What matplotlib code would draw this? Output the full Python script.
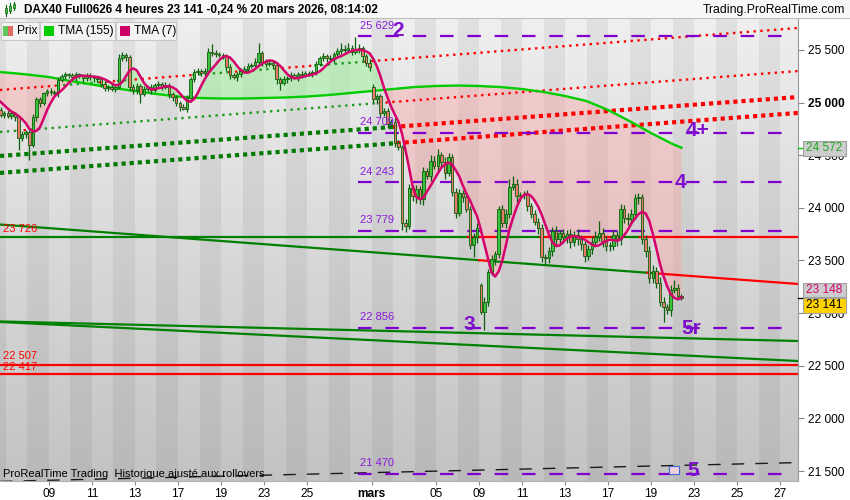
import numpy as np
import pandas as pd
import matplotlib
matplotlib.use("Agg")
import matplotlib.pyplot as plt
from matplotlib.patches import Rectangle
from matplotlib.colors import LinearSegmentedColormap

plt.rcParams['font.family'] = ['Liberation Sans', 'DejaVu Sans']

# ---------------- data ----------------
# 4-hour closes, 6 bars per trading day; day index 0 = 9 Feb 2026
first_day, first_slot = -4, 4
closes_by_day = [
    [25080, 25060],                                   # day -4 (warm-up, off chart)
    [25040, 25020, 24990, 24930, 24880, 24900],       # day -3
    [24870, 24900, 24860, 24660, 24700, 24720],
    [24600, 24860, 25030, 25000, 25090, 25110],
    [25100, 25090, 25215, 25250, 25270, 25260],       # 09 Feb
    [25240, 25270, 25250, 25230, 25260, 25240],
    [25230, 25220, 25180, 25140, 25150, 25130],
    [25150, 25420, 25450, 25430, 25150, 25120],
    [25160, 25080, 25130, 25150, 25120, 25170],
    [25180, 25150, 25170, 25080, 25050, 25000],       # 16 Feb
    [24960, 24940, 25040, 25220, 25290, 25300],
    [25280, 25300, 25480, 25470, 25460, 25450],
    [25440, 25340, 25260, 25240, 25270, 25300],
    [25320, 25350, 25360, 25390, 25470, 25390],
    [25370, 25380, 25360, 25220, 25190, 25220],       # 23 Feb
    [25230, 25260, 25240, 25270, 25260, 25280],
    [25270, 25290, 25370, 25420, 25440, 25420],
    [25410, 25460, 25490, 25510, 25500, 25520],
    [25480, 25500, 25520, 25440, 25380, 25340],
    [25030, 25060, 24900, 24920, 24800, 24820],       # 02 Mar
    [24620, 24580, 23860, 23830, 24190, 24110],
    [24180, 24080, 24350, 24300, 24450, 24400],
    [24500, 24440, 24330, 24480, 24150, 23950],
    [24140, 24100, 23990, 23650, 23720, 23810],
    [23010, 23110, 23390, 23510, 23560, 23990],       # 09 Mar
    [23860, 23940, 24200, 24230, 24110, 24120],
    [24130, 24020, 23940, 23870, 23810, 23530],
    [23520, 23590, 23780, 23700, 23760, 23720],
    [23750, 23680, 23740, 23700, 23660, 23540],
    [23610, 23680, 23720, 23760, 23690, 23640],       # 16 Mar
    [23640, 23740, 23700, 23990, 23900, 23890],
    [23940, 24090, 24100, 23700, 23590, 23330],
    [23400, 23290, 23110, 23060, 23030, 23220],
    [23240, 23160, 23141],                            # 20 Mar
]
wick_hi_by_day = [
    [20, 25],
    [20, 20, 30, 25, 30, 25],
    [30, 20, 15, 20, 30, 20],
    [20, 30, 20, 25, 15, 20],
    [25, 20, 30, 20, 25, 15],
    [20, 25, 15, 20, 25, 20],
    [20, 15, 20, 25, 20, 30],
    [20, 40, 30, 25, 20, 25],
    [25, 20, 30, 20, 25, 20],
    [30, 20, 25, 20, 25, 20],
    [20, 25, 30, 20, 25, 30],
    [20, 25, 40, 75, 30, 20],
    [25, 20, 30, 25, 20, 30],
    [30, 25, 20, 30, 95, 20],
    [25, 30, 20, 25, 20, 30],
    [20, 30, 25, 20, 30, 25],
    [25, 20, 30, 25, 30, 20],
    [30, 25, 30, 60, 40, 45],
    [30, 125, 40, 20, 25, 30],
    [30, 25, 20, 30, 25, 20],
    [30, 25, 20, 30, 40, 30],
    [40, 30, 40, 30, 50, 40],
    [60, 30, 40, 40, 30, 40],
    [40, 30, 50, 30, 40, 50],
    [20, 40, 30, 40, 30, 30],
    [40, 50, 70, 70, 40, 30],
    [30, 40, 30, 40, 30, 40],
    [30, 40, 40, 50, 30, 40],
    [40, 50, 40, 60, 40, 30],
    [40, 50, 60, 120, 50, 40],
    [40, 50, 40, 50, 40, 50],
    [50, 40, 40, 30, 40, 50],
    [60, 40, 50, 40, 30, 50],
    [75, 40, 20],
]
wick_lo_by_day = [
    [25, 20],
    [30, 20, 25, 30, 20, 30],
    [20, 25, 30, 110, 20, 40],
    [145, 20, 30, 40, 20, 30],
    [30, 25, 40, 20, 30, 25],
    [25, 30, 20, 30, 20, 25],
    [30, 20, 35, 25, 30, 20],
    [30, 20, 25, 30, 40, 35],
    [40, 85, 20, 30, 35, 20],
    [25, 30, 20, 40, 30, 35],
    [40, 10, 25, 30, 20, 25],
    [25, 30, 20, 25, 30, 20],
    [30, 40, 35, 20, 30, 25],
    [20, 30, 25, 20, 35, 40],
    [30, 20, 35, 40, 70, 25],
    [30, 25, 20, 30, 25, 20],
    [20, 30, 25, 20, 25, 30],
    [25, 30, 20, 25, 30, 20],
    [25, 20, 30, 40, 30, 35],
    [30, 40, 35, 30, 40, 30],
    [40, 30, 70, 60, 30, 40],
    [60, 40, 50, 30, 40, 30],
    [40, 50, 60, 30, 40, 50],
    [30, 40, 30, 40, 120, 50],
    [20, 170, 40, 30, 50, 40],
    [40, 50, 40, 30, 50, 40],
    [40, 50, 40, 30, 60, 40],
    [50, 40, 50, 60, 40, 50],
    [50, 60, 40, 50, 60, 50],
    [40, 50, 40, 30, 60, 50],
    [50, 40, 60, 50, 40, 50],
    [40, 50, 50, 40, 60, 40],
    [40, 50, 40, 140, 40, 60],
    [30, 40, 20],
]
# opening gaps (day, slot) -> open
gap_opens = {(15, 0): 25150, (20, 0): 23270}

# TMA(155) read at the start of each trading day (day -3 .. 29) and at the last bar
tma155_days = list(range(-3, 30))
tma155_vals = [25300, 25286, 25267, 25243, 25205, 25172, 25139, 25110, 25082, 25058,
               25044, 25039, 25039, 25044, 25049, 25058, 25072, 25091, 25110, 25129,
               25148, 25158, 25162, 25158, 25148, 25129, 25101, 25063, 25015, 24930,
               24825, 24711, 24607]
tma155_last = 24572
tma7_last = 23148
last_price = 23141

# drawn objects: (t0, p0, t1, p1)
fine_dotted = [(-2.279, 25120, 34.837, 25709), (-2.279, 24721, 34.837, 25300)]
thick_dotted = [(-2.279, 24493, 34.837, 25053), (-2.279, 24332, 34.837, 24902)]
solid_dyn = [(-2.279, 23726, 34.837, 23726), (-2.279, 23842, 34.837, 23277),
             (-2.279, 22921, 34.837, 22735), (-2.279, 22916, 34.837, 22545)]
red_levels = [22507, 22417]
black_dashed = (-2.279, 21401, 34.837, 21580)
left_labels = [(23726, '23 726', 229), (22507, '22 507', 356), (22417, '22 417', 367)]

purple_levels = [25629, 24709, 24243, 23779, 22856, 21470]
purple_labels = ['25 629', '24 709', '24 243', '23 779', '22 856', '21 470']
wave_labels = [('2', 398, 31), ('4+', 698, 131), ('4', 680, 182), ('3', 469, 325),
               ('5r', 691, 328), ('5', 693, 470)]

xtick_pos = [0, 2, 4, 6, 8, 10, 12, 15, 18, 20, 22, 24, 26, 28, 30, 32, 34]
xtick_lab = ['09', '11', '13', '17', '19', '23', '25', 'mars', '05', '09', '11', '13',
             '17', '19', '23', '25', '27']
ytick_vals = [21500, 22000, 22500, 23000, 23500, 24000, 24500, 25000, 25500]

# ---------------- build bars ----------------
closes, his, los, opens, ts = [], [], [], [], []
prev = None
for di, (cl, wh, wl) in enumerate(zip(closes_by_day, wick_hi_by_day, wick_lo_by_day)):
    day = first_day + di
    s0 = first_slot if di == 0 else 0
    for j, (c, a, b) in enumerate(zip(cl, wh, wl)):
        slot = s0 + j
        o = gap_opens.get((day, slot), prev if prev is not None else c + 20)
        closes.append(c); opens.append(o)
        his.append(max(o, c) + a); los.append(min(o, c) - b)
        ts.append(day + (slot + 0.5) / 6.0)
        prev = c
closes = np.array(closes, float); opens = np.array(opens, float)
his = np.array(his, float); los = np.array(los, float); ts = np.array(ts)

tma7 = pd.Series(closes).rolling(4, min_periods=1).mean().rolling(4, min_periods=1).mean().values
tma155_t = np.array(tma155_days + [ts[-1]], float)
tma155_p = np.array(tma155_vals + [tma155_last], float)

# ---------------- figure ----------------
W, H = 850, 500
fig = plt.figure(figsize=(8.5, 5), dpi=100)
fig.patch.set_facecolor('white')
def fx(x): return x / W
def fy(y): return 1 - y / H

AX_R, AX_T, AX_B = 798, 18, 481
ax = fig.add_axes([0, fy(AX_B), AX_R / W, (AX_B - AX_T) / H])
T_MIN, T_MAX = -2.279, 34.837
P_MIN, P_MAX = 21405, 25804
ax.set_xlim(T_MIN, T_MAX); ax.set_ylim(P_MIN, P_MAX)

# background gradient + day bands
cmap = LinearSegmentedColormap.from_list('bg', ['#c3c3c3', '#efefef'])
grad = np.linspace(0, 1, 256).reshape(-1, 1)
ax.imshow(grad, extent=[T_MIN, T_MAX, P_MIN, P_MAX], origin='lower', aspect='auto',
          cmap=cmap, zorder=0)
for d in range(-4, 36):
    if d % 2 != 0:
        ax.axvspan(d, d + 1, color='black', alpha=0.055, lw=0, zorder=0.5)

# fills between TMAs
vis = ts >= -3
t_v = ts[vis]; m7 = tma7[vis]; m155 = np.interp(t_v, tma155_t, tma155_p)
ax.fill_between(t_v, m7, m155, where=m7 >= m155, interpolate=True, color='#9ff09f',
                alpha=0.55, lw=0, zorder=1)
ax.fill_between(t_v, m7, m155, where=m7 < m155, interpolate=True, color='#ff9d9d',
                alpha=0.38, lw=0, zorder=1)

GREEN_L, RED_L = '#008000', '#ff0000'

def dyn_line(t0, p0, t1, p1, gcol, rcol, **kw):
    slope = (p1 - p0) / (t1 - t0)
    idx = np.where((ts >= t0) & (ts <= t1))[0]
    status = closes[idx] > p0 + slope * (ts[idx] - t0)
    runs = []
    st, cur = t0, status[0]
    for i in range(1, len(idx)):
        if status[i] != cur:
            bt = 0.5 * (ts[idx[i - 1]] + ts[idx[i]])
            runs.append((st, bt, cur)); st, cur = bt, status[i]
    runs.append((st, t1, cur))
    for a, b, s in runs:
        ax.plot([a, b], [p0 + slope * (a - t0), p0 + slope * (b - t0)],
                color=gcol if s else rcol, **kw)

for (t0, p0, t1, p1) in fine_dotted:
    dyn_line(t0, p0, t1, p1, '#1e9a1e', RED_L, lw=1.7, ls=(0, (1, 1.9)), zorder=2,
             solid_capstyle='butt', dash_capstyle='butt')
for (t0, p0, t1, p1) in thick_dotted:
    dyn_line(t0, p0, t1, p1, '#007a00', RED_L, lw=3.0, ls=(0, (1, 0.95)), zorder=2,
             dash_capstyle='butt')
for (t0, p0, t1, p1) in solid_dyn:
    dyn_line(t0, p0, t1, p1, GREEN_L, RED_L, lw=1.6, zorder=2)
for lv in red_levels:
    ax.axhline(lv, color=RED_L, lw=1.6, zorder=2)
t0, p0, t1, p1 = black_dashed
ax.plot([t0, t1], [p0, p1], color='#1a1a1a', lw=1.0, ls=(0, (9, 8)), zorder=2)

# purple levels
lv_t0, lv_t1 = (358 - 49) / 21.5, (787 - 49) / 21.5
for lv, lab in zip(purple_levels, purple_labels):
    ax.plot([lv_t0, lv_t1], [lv, lv], color='#8000d0', lw=1.6, ls=(0, (6.1, 6.2)),
            zorder=2.5, dash_capstyle='butt')
    ax.text(lv_t0 + 0.08, lv + 55, lab, color='#8a1ad8', fontsize=8, va='bottom',
            ha='left', zorder=5)

# TMA155
ax.plot(tma155_t, tma155_p, color='#00cc00', lw=1.7, zorder=2.6)

# candles
up = closes >= opens
body_lo = np.minimum(opens, closes)
body_h = np.maximum(np.abs(closes - opens), 8)
ax.vlines(ts, los, his, color='#0b5e0b', lw=0.9, zorder=3)
ax.bar(ts[up], body_h[up], bottom=body_lo[up], width=0.115, color='#3cc23c',
       edgecolor='#0b5e0b', linewidth=0.6, zorder=3.1)
ax.bar(ts[~up], body_h[~up], bottom=body_lo[~up], width=0.115, color='#ec7a6c',
       edgecolor='#0b5e0b', linewidth=0.6, zorder=3.1)

# TMA7
ax.plot(ts, tma7, color='#d4006c', lw=1.8, zorder=4)

# axes styling
for s in ['top', 'left']:
    ax.spines[s].set_visible(False)
ax.spines['right'].set_color('#9a9a9a')
ax.spines['bottom'].set_color('#b0b0b0')
ax.yaxis.tick_right()
ax.set_yticks(ytick_vals)
ax.set_yticklabels([f"{v:,}".replace(',', ' ') for v in ytick_vals])
for tl, v in zip(ax.get_yticklabels(), ytick_vals):
    if v == 25000:
        tl.set_fontweight('bold')
ax.tick_params(axis='y', length=4, color='#888888', labelsize=8.6, pad=3)
ax.set_xticks(xtick_pos)
ax.set_xticklabels(xtick_lab)
for tl, lab in zip(ax.get_xticklabels(), xtick_lab):
    if lab == 'mars':
        tl.set_fontweight('bold')
ax.tick_params(axis='x', length=3, color='#888888', labelsize=8.6, pad=2)

# left line labels
for lv, lab, ypx in left_labels:
    fig.text(fx(3), fy(ypx), lab, color='#ff0000', fontsize=8, va='center', ha='left')

# wave labels
for lab, xp, yp in wave_labels:
    fig.text(fx(xp), fy(yp), lab, color='#7d10cc', fontsize=15, fontweight='bold',
             ha='center', va='center')

# title bar
fig.patches.append(Rectangle((0, fy(18)), 1, 18 / H, transform=fig.transFigure,
                             facecolor='#f8f8f8', edgecolor='none', zorder=1))
fig.add_artist(plt.Line2D([0, 1], [fy(18), fy(18)], transform=fig.transFigure,
                          color='#bdbdbd', lw=0.8))
for cx, yb, yt_, wt, wb in [(6, 13, 8, 16, 5), (10, 11, 6, 13, 3), (14, 8, 4, 10, 2)]:
    fig.add_artist(plt.Line2D([fx(cx), fx(cx)], [fy(wt), fy(wb)], transform=fig.transFigure,
                              color='#0b5e0b', lw=0.8))
    fig.patches.append(Rectangle((fx(cx - 1.3), fy(yb)), 2.6 / W, (yb - yt_) / H,
                                 transform=fig.transFigure, facecolor='#3cc23c',
                                 edgecolor='#0b5e0b', lw=0.5, zorder=2))
fig.text(fx(24), fy(10), "DAX40 Full0626 4 heures 23 141 -0,24 % 20 mars 2026, 08:14:02",
         fontsize=8.5, fontweight='bold', va='center', ha='left')
fig.text(fx(845), fy(10), "Trading.ProRealTime.com", fontsize=8.8, va='center', ha='right')

# legend boxes
def prect(x0, y0, x1, y1, **kw):
    fig.patches.append(Rectangle((fx(x0), fy(y1)), (x1 - x0) / W, (y1 - y0) / H,
                                 transform=fig.transFigure, **kw))
for (x0, x1) in [(1, 39), (40, 115), (116, 176)]:
    prect(x0, 22, x1, 40, facecolor='#f3f3f3', edgecolor='#c8c8c8', lw=0.8, zorder=6)
prect(3, 26, 8, 36, facecolor='#5cc85c', edgecolor='none', zorder=7)
prect(8, 26, 13, 36, facecolor='#e26a62', edgecolor='none', zorder=7)
prect(44, 26, 54, 36, facecolor='#00cc00', edgecolor='none', zorder=7)
prect(120, 26, 130, 36, facecolor='#cc0066', edgecolor='none', zorder=7)
for txt, xp in [('Prix', 17), ('TMA (155)', 58), ('TMA (7)', 134)]:
    fig.text(fx(xp), fy(31), txt, fontsize=8.6, va='center', ha='left', zorder=8)

# right value boxes
def vbox(y0, y1, val, fc, tc):
    prect(803, y0, 846, y1, facecolor=fc, edgecolor='#a0a0a0', lw=0.8, zorder=6)
    fig.text(fx(806), fy((y0 + y1) / 2), f"{val:,}".replace(',', ' '), color=tc,
             fontsize=8.6, va='center', ha='left', zorder=8)
vbox(141, 156, tma155_last, '#cdcdcd', '#1fa51f')
vbox(283, 297, tma7_last, '#cdcdcd', '#d4006c')
vbox(298, 313, last_price, '#ffd200', 'black')
fig.add_artist(plt.Line2D([fx(798), fx(803)], [fy(148), fy(148)], transform=fig.transFigure,
                          color='#00cc00', lw=1))
fig.add_artist(plt.Line2D([fx(798), fx(803)], [fy(298), fy(298)], transform=fig.transFigure,
                          color='black', lw=1))

# small flag icon near the "5"
prect(669, 466, 679, 474, facecolor='#f0d0e0', edgecolor='#3a6ad0', lw=0.8, zorder=6)

fig.text(fx(3), fy(474), "ProRealTime Trading  Historique ajusté aux rollovers",
         fontsize=8, va='center', ha='left', zorder=8)

fig.savefig('out.png', dpi=100)
